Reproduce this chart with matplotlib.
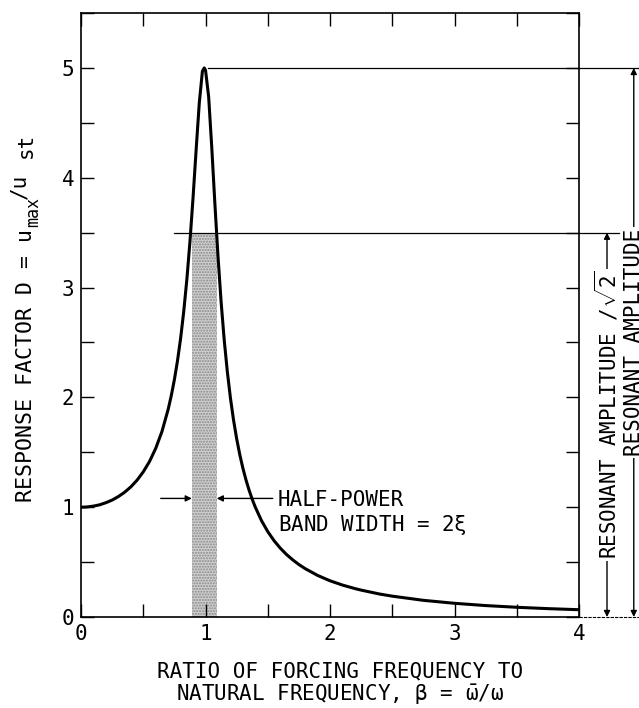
import matplotlib
matplotlib.use("Agg")
import matplotlib.pyplot as plt
from matplotlib.ticker import MultipleLocator

# ---- data ----
beta = [0.0, 0.05, 0.1, 0.15, 0.2, 0.25, 0.3, 0.35, 0.4, 0.45, 0.5, 0.55, 0.6, 0.65,
        0.7, 0.725, 0.75, 0.775, 0.8, 0.825, 0.85, 0.875, 0.9, 0.925, 0.95, 0.975,
        0.99, 1.0, 1.025, 1.05, 1.075, 1.1, 1.125, 1.15, 1.175, 1.2, 1.225, 1.25,
        1.275, 1.3, 1.325, 1.35, 1.375, 1.4, 1.45, 1.5, 1.55, 1.6, 1.65, 1.7, 1.75,
        1.8, 1.9, 2.0, 2.1, 2.2, 2.25, 2.4, 2.5, 2.75, 3.0, 3.25, 3.5, 3.75, 4.0]
D = [1.0, 1.0025, 1.01, 1.022, 1.041, 1.065, 1.097, 1.136, 1.185, 1.246, 1.322, 1.416,
     1.536, 1.689, 1.891, 2.016, 2.162, 2.334, 2.538, 2.782, 3.073, 3.419, 3.821,
     4.261, 4.682, 4.97, 5.0, 4.98, 4.74, 4.279, 3.768, 3.288, 2.873, 2.525, 2.236,
     1.995, 1.794, 1.625, 1.48, 1.356, 1.249, 1.155, 1.073, 1.0, 0.877, 0.778,
     0.696, 0.628, 0.57, 0.521, 0.478, 0.441, 0.379, 0.330, 0.291, 0.259, 0.245,
     0.209, 0.190, 0.152, 0.125, 0.1043, 0.0887, 0.0764, 0.0666]
x_ticks = [0, 1, 2, 3, 4]
y_ticks = [0, 1, 2, 3, 4, 5]
resonant = 5.0
half_level = 3.5
band = [0.89, 1.09]

FONT = "DejaVu Sans Mono"
plt.rcParams["font.family"] = [FONT, "DejaVu Sans"]
plt.rcParams["mathtext.fontset"] = "custom"
plt.rcParams["mathtext.rm"] = FONT
plt.rcParams["mathtext.it"] = FONT
plt.rcParams["mathtext.bf"] = FONT
FS = 15
W, H = 639, 708

fig = plt.figure(figsize=(W / 100, H / 100), dpi=100)
ax = fig.add_axes([0.1268, 0.1285, 0.7793, 0.8531])

ax.plot(beta, D, color="black", lw=2.2, solid_joinstyle="round")

# half-power band
ax.fill_between(band, [0, 0], [half_level, half_level], facecolor="#d0d0d0",
                edgecolor="#888888", hatch="......", linewidth=0, zorder=1)

# reference lines
ax.plot([1.02, 4.6], [resonant, resonant], color="black", lw=0.9, clip_on=False)
ax.plot([0.75, 4.32], [half_level, half_level], color="black", lw=0.9, clip_on=False)
ax.plot([4.0, 4.6], [0, 0], color="black", lw=0.8, ls=(0, (3, 1)), clip_on=False)

# dimension lines
def dim_line(x, top, yc, text):
    for end in (top, 0):
        ax.annotate("", xy=(x, end), xytext=(x, yc), annotation_clip=False,
                    arrowprops=dict(arrowstyle="-|>", lw=1.0, color="black",
                                    mutation_scale=9, shrinkA=0, shrinkB=0))
    ax.text(x, yc, text, rotation=90, ha="center", va="center", fontsize=FS,
            clip_on=False, bbox=dict(facecolor="white", edgecolor="none", pad=1.5))

dim_line(4.225, half_level, 1.84, r"RESONANT AMPLITUDE /$\sqrt{2}$")
dim_line(4.44, resonant, 2.5, "RESONANT AMPLITUDE")

# half-power arrows and label
arr = dict(arrowstyle="-|>", lw=1.0, color="black", mutation_scale=9,
           shrinkA=0, shrinkB=0)
ax.annotate("", xy=(band[0], 1.08), xytext=(0.64, 1.08), arrowprops=arr)
ax.annotate("", xy=(band[1], 1.08), xytext=(1.54, 1.08), arrowprops=arr)
ax.text(1.58, 1.155, "HALF-POWER\nBAND WIDTH = 2$\\xi$", ha="left", va="top",
        fontsize=FS, linespacing=1.15)

ax.set_xlim(0, 4)
ax.set_ylim(0, 5.5)
ax.set_xticks(x_ticks)
ax.set_yticks(y_ticks)
ax.xaxis.set_minor_locator(MultipleLocator(0.5))
ax.yaxis.set_minor_locator(MultipleLocator(0.5))
ax.tick_params(which="both", direction="in", length=9.5, width=1.0,
               top=True, right=True, labelsize=FS, pad=5)
for s in ax.spines.values():
    s.set_linewidth(1.2)

# y label built from pieces (typewriter-style sub/superscripts)
ylabel_parts = [("RESPONSE FACTOR D = u", 15.5, 32, 502),
                ("max", 12, 38, 227),
                ("/u", 15, 25, 199),
                ("st", 15, 32, 158)]
for txt, fs, bx, by in ylabel_parts:
    fig.text(bx / W, 1 - by / H, txt, rotation=90, rotation_mode="anchor",
             ha="left", va="baseline", fontsize=fs)

ax.set_xlabel("RATIO OF FORCING FREQUENCY TO\nNATURAL FREQUENCY, $\\beta$ = $\\bar{\\omega}$/$\\omega$",
              fontsize=FS, linespacing=1.05)
ax.xaxis.set_label_coords(0.52, -0.074, transform=ax.transAxes)
ax.xaxis.label.set_va("top")

fig.savefig("out.png", dpi=100)
